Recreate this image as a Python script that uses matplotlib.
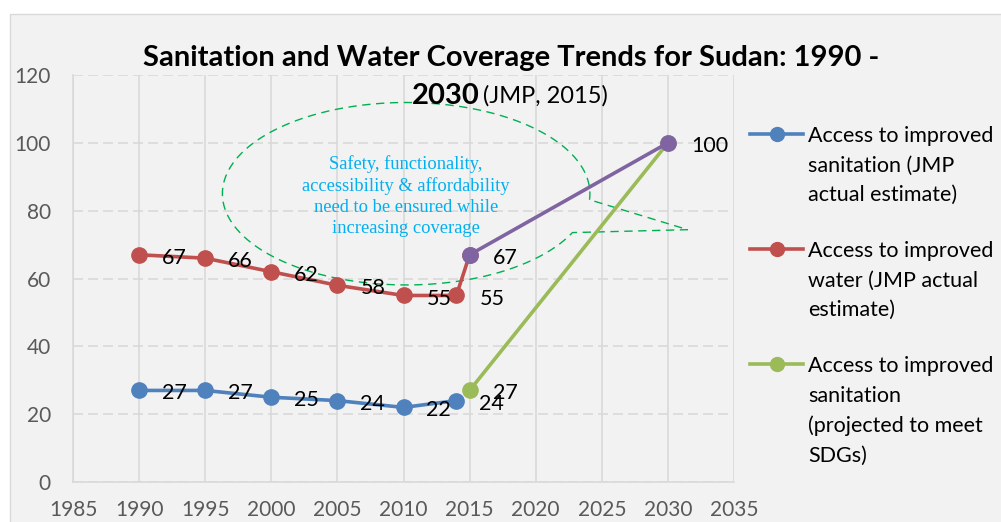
import numpy as np
import matplotlib
matplotlib.use('Agg')
import matplotlib.pyplot as plt
from matplotlib.patches import Rectangle, PathPatch
from matplotlib.path import Path
from matplotlib.lines import Line2D

# data
san_years = [1990, 1995, 2000, 2005, 2010, 2014]
san_actual = [27, 27, 25, 24, 22, 24]
water_years = [1990, 1995, 2000, 2005, 2010, 2014, 2015]
water_actual = [67, 66, 62, 58, 55, 55, 67]
water_target_years = [2015, 2030]
water_target = [67, 100]
san_target_years = [2015, 2030]
san_target = [27, 100]

legend_labels = ['Access to improved\nsanitation (JMP\nactual estimate)',
                 'Access to improved\nwater (JMP actual\nestimate)',
                 'Access to improved\nsanitation\n(projected to meet\nSDGs)']
callout = ('Safety, functionality,\naccessibility & affordability\n'
           'need to be ensured while\nincreasing coverage')

BLUE = '#4F81BD'
RED = '#C0504D'
PURPLE = '#8064A2'
GREEN = '#9BBB59'
BG = '#F2F2F2'

plt.rcParams['font.family'] = ['Lato', 'DejaVu Sans']

fig = plt.figure(figsize=(10.01, 5.22), dpi=100, facecolor='white')
fig.patches.append(Rectangle((0.0095, -0.01), 1.0, 0.9832, transform=fig.transFigure,
                             fc=BG, ec='#D9D9D9', lw=1, zorder=-10))
ax = fig.add_axes([0.0729, 0.0766, 0.6604, 0.7797])
ax.set_facecolor(BG)

ax.set_xlim(1985, 2035)
ax.set_ylim(0, 120)
ax.set_xticks(range(1985, 2036, 5))
ax.set_yticks(range(0, 121, 20))
ax.grid(axis='x', color='#D9D9D9', lw=1.2, ls='-')
ax.grid(axis='y', color='#D9D9D9', lw=1.2, ls=(0, (6, 3)))
ax.set_axisbelow(True)
for s in ['top', 'right']:
    ax.spines[s].set_visible(False)
for s in ['left', 'bottom']:
    ax.spines[s].set_color('#D9D9D9')
    ax.spines[s].set_linewidth(1.2)
ax.tick_params(length=0, labelsize=15, labelcolor='#595959')
ax.tick_params(axis='x', pad=13)
ax.tick_params(axis='y', pad=16)

lw, ms = 2.6, 11
ax.plot(san_years, san_actual, color=BLUE, lw=lw, marker='o', ms=ms, zorder=3)
ax.plot(water_years, water_actual, color=RED, lw=lw, marker='o', ms=ms, zorder=3)
ax.plot(san_target_years, san_target, color=GREEN, lw=lw, marker='o', ms=ms, zorder=4)
ax.plot(water_target_years, water_target, color=PURPLE, lw=lw, marker='o', ms=ms, zorder=4.5)

def label(xs, ys):
    for x, y in zip(xs, ys):
        ax.annotate(str(y), (x, y), xytext=(16.5, -2.2), textcoords='offset points',
                    ha='left', va='center', fontsize=15.5, color='black', zorder=5)

label(san_years, san_actual)
label(water_years[:-1], water_actual[:-1])
label(water_target_years, water_target)
label(san_target_years[:1], san_target[:1])

# callout ellipse with tail
cx, cy, a, b = 2010.2, 85.0, 13.9, 26.9
t = np.linspace(-0.066, 2 * np.pi - 0.44, 300)
ex = cx + a * np.cos(t)
ey = cy + b * np.sin(t)
vx = list(ex) + [2031.5, ex[0]]
vy = list(ey) + [74.4, ey[0]]
ax.add_patch(PathPatch(Path(np.column_stack([vx, vy])), fill=False, ec='#00B050',
                       lw=1.0, ls=(0, (6, 4)), clip_on=False, zorder=2))
ax.text(cx, 84.3, callout, ha='center', va='center', fontsize=13.3, color='#00B0F0',
        family='Liberation Serif', linespacing=1.3, zorder=5)

# title
fig.text(0.5105, 0.889, 'Sanitation and Water Coverage Trends for Sudan: 1990 -',
         ha='center', va='center', fontsize=21, fontweight='bold')
fig.text(412 / 1001, 1 - 96 / 522, '2030', ha='left', va='center', fontsize=21,
         fontweight='bold')
fig.text(483 / 1001, 1 - 96 / 522, '(JMP, 2015)', ha='left', va='center', fontsize=17)

# legend
colors = [BLUE, RED, GREEN]
ys = [134, 249, 364]
for c, yy, lab in zip(colors, ys, legend_labels):
    fy = 1 - yy / 522
    fig.lines.append(Line2D([750 / 1001, 803 / 1001], [fy, fy], color=c, lw=lw,
                            transform=fig.transFigure))
    fig.lines.append(Line2D([777 / 1001], [fy], color=c, marker='o', ms=ms - 1,
                            transform=fig.transFigure))
    fig.text(808 / 1001, fy + 8 / 522, lab, ha='left', va='top', fontsize=15.5,
             linespacing=1.6)

plt.savefig('out.png', dpi=100, facecolor='white')
